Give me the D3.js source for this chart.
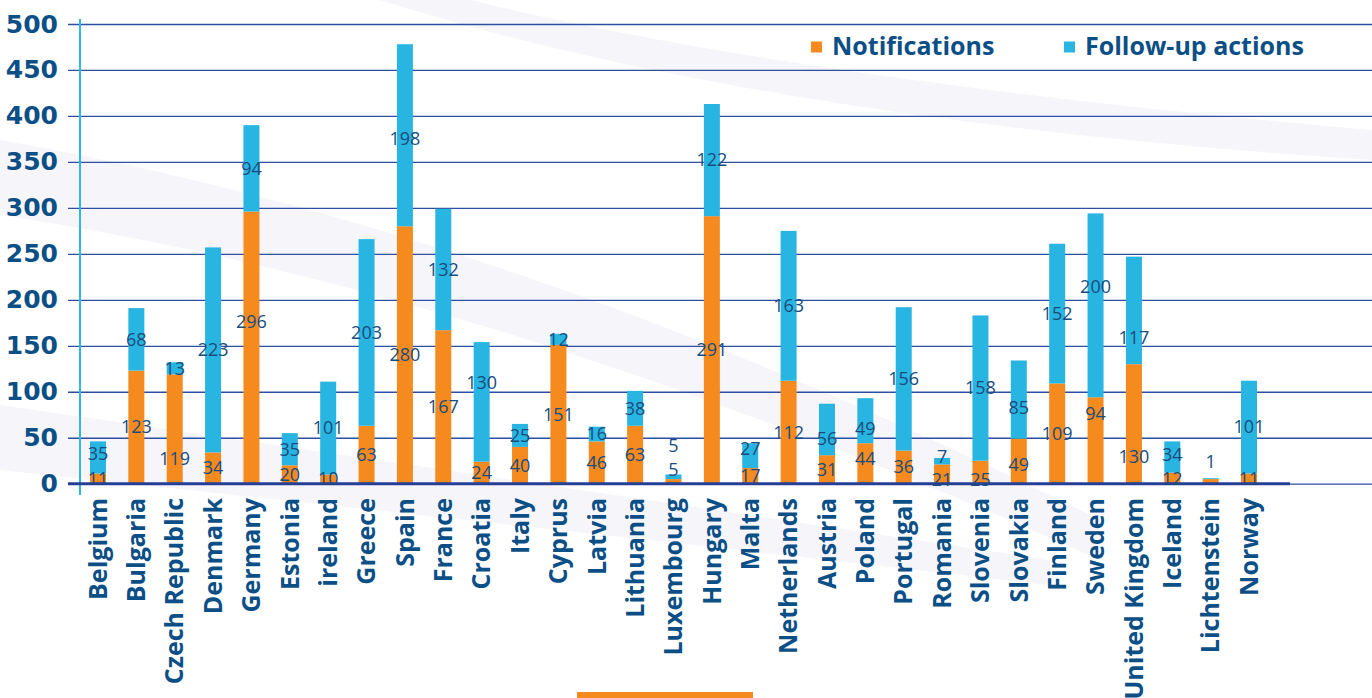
<!DOCTYPE html>
<html>
<head>
<meta charset="utf-8">
<script src="https://cdn.jsdelivr.net/npm/d3@7"></script>
<style>
  body { margin: 0; background: #fff; }
  svg { display: block; }
</style>
</head>
<body>
<svg id="chart" width="1372" height="698"></svg>
<script>
var countries = ["Belgium","Bulgaria","Czech Republic","Denmark","Germany","Estonia","ireland","Greece","Spain","France",
	"Croatia","Italy","Cyprus","Latvia","Lithuania","Luxembourg","Hungary","Malta","Netherlands","Austria",
	"Poland","Portugal","Romania","Slovenia","Slovakia","Finland","Sweden","United Kingdom","Iceland","Lichtenstein","Norway"];
var notifications = [11,123,119,34,296,20,10,63,280,167,24,40,151,46,63,5,291,17,112,31,44,36,21,25,49,109,94,130,12,5,11];
var followUps = [35,68,13,223,94,35,101,203,198,132,130,25,12,16,38,5,122,27,163,56,49,156,7,158,85,152,200,117,34,1,101];
var yTicks = [0,50,100,150,200,250,300,350,400,450,500];
var seriesNames = ["Notifications","Follow-up actions"];
var hideNotifLabel = ["Lichtenstein"];

// hand nudges (px) for labels the original moved off the segment centre
var labelNudge = {
	"Germany|n": -26, "Czech Republic|n": 30, "Croatia|f": -19, "Luxembourg|n": -12, "Luxembourg|f": -31,
	"Malta|f": -7, "Austria|f": 9, "Poland|n": -5, "Poland|f": 8, "Romania|n": 6, "Romania|f": -4, "Slovenia|n": 7,
	"Slovakia|n": 4, "Slovakia|f": 8, "Sweden|n": -27, "Sweden|f": -19, "United Kingdom|n": 33,
	"United Kingdom|f": 27, "Lichtenstein|f": -17, "Belgium|f": -4, "Spain|f": 3, "Iceland|f": -2, "Iceland|n": 1
};

var orange = "#f58a1f", blue = "#29b5e1", ink = "#0c4f86", labelInk = "#184c7e";

var svg = d3.select("#chart");

// faint background swooshes
var bg = svg.append("g").attr("fill", "#f6f6fa");
bg.append("path").attr("d", "M0,140 Q520,230 1100,520 L1100,560 Q500,290 0,215 Z");
bg.append("path").attr("d", "M0,405 Q450,470 1050,560 L1050,585 Q430,515 0,470 Z");
bg.append("path").attr("d", "M380,0 L470,0 Q800,80 1372,130 L1372,160 Q760,120 380,0 Z");

var rows = countries.map((c, i) => ({country: c, n: notifications[i], f: followUps[i]}));
var stack = d3.stack().keys(["n","f"])(rows);

var x = d3.scaleBand().domain(countries).range([80, 1267]).paddingInner(0.583).paddingOuter(0.26);
var y = d3.scaleLinear().domain([0, 500]).range([483.7, 24]);
var color = d3.scaleOrdinal().domain(["n","f"]).range([orange, blue]);

// grid + y labels
var yAxis = svg.append("g")
	.attr("transform", "translate(68,0)")
	.call(d3.axisLeft(y).tickValues(yTicks).tickSize(-1304).tickPadding(10));
yAxis.select(".domain").remove();
yAxis.selectAll(".tick line").attr("stroke", "#2f4ea3").attr("stroke-width", 1.3);
yAxis.selectAll(".tick text")
	.attr("fill", ink)
	.style("font-family", "'DejaVu Sans', sans-serif")
	.style("font-weight", "bold")
	.style("font-size", "25px");

// y axis line
svg.append("line").attr("x1", 80).attr("x2", 80).attr("y1", 19).attr("y2", 495)
	.attr("stroke", "#2cb7e6").attr("stroke-width", 2);

// bars
svg.append("g").selectAll("g")
	.data(stack)
	.join("g")
	.attr("fill", d => color(d.key))
	.selectAll("rect")
	.data(d => d)
	.join("rect")
	.attr("x", d => x(d.data.country))
	.attr("width", x.bandwidth())
	.attr("y", d => y(d[1]))
	.attr("height", d => y(d[0]) - y(d[1]));

// base line
svg.append("line").attr("x1", 68).attr("x2", 1290).attr("y1", y(0)).attr("y2", y(0))
	.attr("stroke", "#243f97").attr("stroke-width", 3);

// value labels
var labels = [];
stack.forEach(s => s.forEach(d => {
	if (s.key === "n" && hideNotifLabel.includes(d.data.country)) return;
	labels.push({country: d.data.country, key: s.key, value: d[1] - d[0], mid: (d[0] + d[1]) / 2});
}));
svg.append("g").selectAll("text")
	.data(labels)
	.join("text")
	.attr("x", d => x(d.country) + x.bandwidth() / 2)
	.attr("y", d => y(d.mid) + (labelNudge[d.country + "|" + d.key] || 0))
	.attr("dy", "0.35em")
	.attr("text-anchor", "middle")
	.attr("fill", labelInk)
	.style("font-family", "'Open Sans', sans-serif")
	.style("font-size", "18px")
	.text(d => d.value);

// category labels
svg.append("g").selectAll("text")
	.data(countries)
	.join("text")
	.attr("transform", d => "translate(" + (x(d) + x.bandwidth() / 2) + ",498) rotate(-90)")
	.attr("dy", "0.35em")
	.attr("text-anchor", "end")
	.attr("fill", ink)
	.style("font-family", "'Open Sans', sans-serif")
	.style("font-weight", "bold")
	.style("font-size", "25px")
	.text(d => d);

// legend
var legend = svg.append("g").selectAll("g")
	.data(seriesNames)
	.join("g")
	.attr("transform", (d, i) => "translate(" + [811, 1064][i] + ",0)");
legend.append("rect").attr("y", 41.5).attr("width", 11).attr("height", 11)
	.attr("fill", (d, i) => color(["n","f"][i]));
legend.append("text").attr("x", 21).attr("y", 55)
	.attr("fill", ink)
	.style("font-family", "'Open Sans', sans-serif")
	.style("font-weight", "bold")
	.style("font-size", "25px")
	.text(d => d);

// orange strip at the bottom
svg.append("rect").attr("x", 577).attr("y", 692).attr("width", 176).attr("height", 6).attr("fill", orange);
</script>
</body>
</html>
